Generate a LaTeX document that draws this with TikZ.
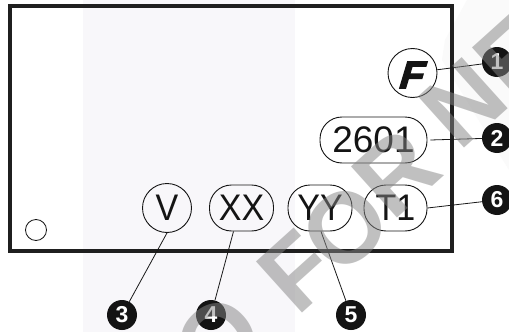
\documentclass[tikz,border=0pt]{standalone}
\usepackage{fontspec}
\setmainfont[FakeStretch=0.92]{Liberation Sans}
\newfontfamily\digitfont{Liberation Sans}
\newfontfamily\logofont[FakeBold=4,FakeSlant=0.3]{Liberation Sans Bold}
\newfontfamily\wmfont{Liberation Sans Bold}
\newfontfamily\badgefont{Liberation Sans Bold}
\definecolor{band}{RGB}{248,247,250}
\definecolor{paleside}{RGB}{250,250,250}
\tikzset{
 frame/.style={draw=black!88,line width=4pt},
 lbl/.style={draw=black!92,line width=0.9pt,text=black!92,inner sep=0pt,font=\fontsize{37}{37}\selectfont},
 circ/.style={lbl,circle,minimum size=49pt},
 pill/.style={lbl,rectangle,rounded corners=22pt,minimum height=46pt},
 badge/.style={circle,fill=black!92,text=white,inner sep=0pt,minimum size=30pt,font=\fontsize{23}{23}\selectfont\badgefont},
 leader/.style={draw=black!90,line width=0.8pt},
 wm/.style={text=black!48,opacity=0.51,inner sep=0pt,rotate=42,font=\fontsize{100}{100}\selectfont\wmfont}
}
\begin{document}
\begin{tikzpicture}[x=1pt,y=-1pt]
\useasboundingbox (0,0) rectangle (509,332);
\clip (0,0) rectangle (509,332);
\fill[white] (0,0) rectangle (509,332);
\fill[band] (83,0) rectangle (295,332);
\fill[paleside] (467,0) -- (445,40) -- (442,60) -- (509,170) -- (509,0) -- cycle;
\draw[frame] (10,6) rectangle (452,251);
\node[circ,minimum size=21pt,line width=0.8pt] (hole) at (36,230) {};
\node[circ] (f) at (412.5,73) {};
\node[text=black!92,inner sep=0pt,font=\fontsize{38}{38}\selectfont\logofont] (flogo) at (409,75) {F};
\node[pill,minimum width=107pt,font=\fontsize{37}{37}\selectfont\digitfont] (n2601) at (373.5,140) {2601};
\node[circ] (v) at (167,208) {V};
\node[pill,minimum width=64pt] (xx) at (241.5,208) {XX};
\node[pill,minimum width=64pt] (yy) at (320,208) {YY};
\node[pill,minimum width=63pt] (t1) at (395.5,208) {T1};
\node[badge] (b1) at (497,62) {1};
\node[badge] (b2) at (497,138) {2};
\node[badge] (b6) at (497,200) {6};
\node[badge] (b3) at (122,315) {3};
\node[badge] (b4) at (211,315) {4};
\node[badge] (b5) at (351,315) {5};
\draw[leader] (f) -- (b1);
\draw[leader] ([xshift=3pt]n2601.east) -- (b2);
\draw[leader] (t1.east) -- (b6);
\draw[leader] (v.south) -- (b3);
\draw[leader] ([xshift=-8pt]xx.south) -- (b4);
\draw[leader] ([xshift=1pt]yy.south) -- (b5);
\node[wm] (wo) at (218,340) {O};
\node[wm] (wf) at (297,271) {F};
\node[wm] (wo2) at (345,228) {O};
\node[wm] (wr) at (396,173) {R};
\node[wm] (wn) at (463,103) {N};
\node[wm] (we) at (515,56) {E};
\end{tikzpicture}
\end{document}
